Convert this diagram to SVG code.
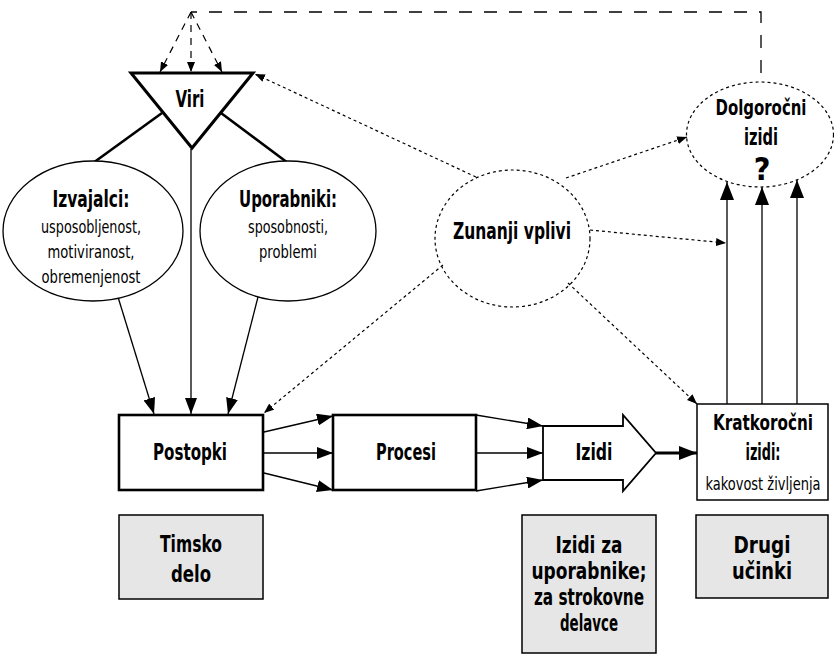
<svg xmlns="http://www.w3.org/2000/svg" width="834" height="663" viewBox="0 0 834 663">
<style>
text{font-family:"DejaVu Sans Condensed","Liberation Sans",sans-serif;fill:#000;text-anchor:middle}
.b{font-weight:bold;font-size:23px}
.r{font-size:18px}
.ln{fill:none;stroke:#000;stroke-width:1.3}
.thk{fill:none;stroke:#000;stroke-width:2.6}
.dot{fill:none;stroke:#000;stroke-width:1.2;stroke-dasharray:3 3}
.dash{fill:none;stroke:#000;stroke-width:1.3;stroke-dasharray:13 12}
.dsh2{fill:none;stroke:#000;stroke-width:1.2;stroke-dasharray:7 6}
.gray{fill:#e6e6e6;stroke:#000;stroke-width:1.5}
</style>
<defs>
<marker id="a" markerUnits="userSpaceOnUse" markerWidth="16" markerHeight="12" refX="16" refY="6" orient="auto"><path d="M0,0L16,6L0,12z" fill="#000"/></marker>
<marker id="aL" markerUnits="userSpaceOnUse" markerWidth="18" markerHeight="14" refX="18" refY="7" orient="auto"><path d="M0,0L18,7L0,14z" fill="#000"/></marker>
<marker id="aS" markerUnits="userSpaceOnUse" markerWidth="10" markerHeight="8" refX="10" refY="4" orient="auto"><path d="M0,0L10,4L0,8z" fill="#000"/></marker>
</defs>
<g id="connectors">
<path class="dash" d="M761,73V12H191"/>
<path class="dsh2" d="M191,12L160,72" marker-end="url(#aS)"/>
<path class="dsh2" d="M191,12L191,72" marker-end="url(#aS)"/>
<path class="dsh2" d="M191,12L222,72" marker-end="url(#aS)"/>
<path class="thk" d="M162,113L93,163"/>
<path class="thk" d="M221,113L288,163"/>
<path class="ln" d="M191,149V414" marker-end="url(#a)"/>
<path class="ln" d="M118,297L154,414" marker-end="url(#a)"/>
<path class="ln" d="M258,297L228,414" marker-end="url(#a)"/>
<path class="ln" d="M264,432L333,416" marker-end="url(#a)"/>
<path class="ln" d="M264,453H333" marker-end="url(#a)"/>
<path class="ln" d="M264,473L333,490" marker-end="url(#a)"/>
<path class="ln" d="M476,415L543,426" marker-end="url(#a)"/>
<path class="ln" d="M476,453H543" marker-end="url(#a)"/>
<path class="ln" d="M476,491L543,480" marker-end="url(#a)"/>
<path fill="none" stroke="#000" stroke-width="3" d="M656,453H697" marker-end="url(#aL)"/>
<path class="ln" d="M727,404V182" marker-end="url(#aL)"/>
<path class="ln" d="M762,404V187" marker-end="url(#aL)"/>
<path class="ln" d="M797,404V180" marker-end="url(#aL)"/>
<path class="dot" d="M476,177L255,74" marker-end="url(#aS)"/>
<path class="dot" d="M566,178L687,137" marker-end="url(#aS)"/>
<path class="dot" d="M590,230L726,243" marker-end="url(#aS)"/>
<path class="dot" d="M443,265L264,413" marker-end="url(#aS)"/>
<path class="dot" d="M568,283L697,404" marker-end="url(#aS)"/>
</g>
<g id="viri">
<polygon points="131,73 253,73 192,148" fill="#fff" stroke="#000" stroke-width="3" stroke-linejoin="miter"/>
<text class="b" x="190" y="107" textLength="29" lengthAdjust="spacingAndGlyphs">Viri</text>
</g>
<g id="izvajalci">
<ellipse cx="93" cy="231" rx="90" ry="70" fill="#fff" stroke="#000" stroke-width="1.3"/>
<text class="b" x="91" y="207" textLength="77" lengthAdjust="spacingAndGlyphs">Izvajalci:</text>
<text class="r" x="91" y="233" textLength="100" lengthAdjust="spacingAndGlyphs">usposobljenost,</text>
<text class="r" x="91" y="258" textLength="87" lengthAdjust="spacingAndGlyphs">motiviranost,</text>
<text class="r" x="91" y="283" textLength="99" lengthAdjust="spacingAndGlyphs">obremenjenost</text>
</g>
<g id="uporabniki">
<ellipse cx="288" cy="231" rx="88" ry="70" fill="#fff" stroke="#000" stroke-width="1.3"/>
<text class="b" x="288" y="207" textLength="98" lengthAdjust="spacingAndGlyphs">Uporabniki:</text>
<text class="r" x="288" y="233" textLength="80" lengthAdjust="spacingAndGlyphs">sposobnosti,</text>
<text class="r" x="288" y="258" textLength="58" lengthAdjust="spacingAndGlyphs">problemi</text>
</g>
<g id="zunanji">
<ellipse cx="512.5" cy="238.5" rx="77.5" ry="68.5" fill="#fff" class="dot"/>
<text class="b" x="512" y="239" textLength="118" lengthAdjust="spacingAndGlyphs">Zunanji vplivi</text>
</g>
<g id="dolgorocni">
<ellipse cx="760" cy="134.5" rx="73.5" ry="52.5" fill="#fff" class="dot"/>
<text class="b" x="761" y="115" style="font-size:22px" textLength="91" lengthAdjust="spacingAndGlyphs">Dolgoročni</text>
<text class="b" x="761" y="145" textLength="34" lengthAdjust="spacingAndGlyphs">izidi</text>
<text class="b" x="762" y="180" style="font-size:32px">?</text>
</g>
<g id="postopki">
<rect x="119" y="415" width="144" height="75" fill="#fff" stroke="#000" stroke-width="2.6"/>
<text class="b" x="190" y="460" textLength="74" lengthAdjust="spacingAndGlyphs">Postopki</text>
</g>
<g id="procesi">
<rect x="333" y="415" width="143" height="75" fill="#fff" stroke="#000" stroke-width="2.6"/>
<text class="b" x="406" y="460" textLength="60" lengthAdjust="spacingAndGlyphs">Procesi</text>
</g>
<g id="izidi">
<polygon points="543,426 623,426 623,415 656,453 623,491 623,480 543,480" fill="#fff" stroke="#000" stroke-width="1.8"/>
<text class="b" x="594" y="460" textLength="37" lengthAdjust="spacingAndGlyphs">Izidi</text>
</g>
<g id="kratkorocni">
<rect x="697" y="404" width="131" height="96" fill="#fff" stroke="#000" stroke-width="1.5"/>
<text class="b" x="763" y="430" style="font-size:22px" textLength="100" lengthAdjust="spacingAndGlyphs">Kratkoročni</text>
<text class="b" x="763" y="460" textLength="35" lengthAdjust="spacingAndGlyphs">izidi:</text>
<text class="r" x="763" y="490" style="font-size:17px" textLength="115" lengthAdjust="spacingAndGlyphs">kakovost življenja</text>
</g>
<g id="timsko">
<rect x="119" y="515" width="144" height="84" class="gray"/>
<text class="b" x="191" y="552" textLength="62" lengthAdjust="spacingAndGlyphs">Timsko</text>
<text class="b" x="191" y="582" textLength="40" lengthAdjust="spacingAndGlyphs">delo</text>
</g>
<g id="izidiza">
<rect x="522" y="515" width="134" height="138" class="gray"/>
<text class="b" x="589" y="553" textLength="67" lengthAdjust="spacingAndGlyphs">Izidi za</text>
<text class="b" x="589" y="579" textLength="115" lengthAdjust="spacingAndGlyphs">uporabnike;</text>
<text class="b" x="589" y="605" textLength="110" lengthAdjust="spacingAndGlyphs">za strokovne</text>
<text class="b" x="589" y="631" textLength="58" lengthAdjust="spacingAndGlyphs">delavce</text>
</g>
<g id="drugi">
<rect x="696" y="515" width="132" height="83" class="gray"/>
<text class="b" x="762" y="553" textLength="57" lengthAdjust="spacingAndGlyphs">Drugi</text>
<text class="b" x="762" y="579" textLength="60" lengthAdjust="spacingAndGlyphs">učinki</text>
</g>
</svg>
